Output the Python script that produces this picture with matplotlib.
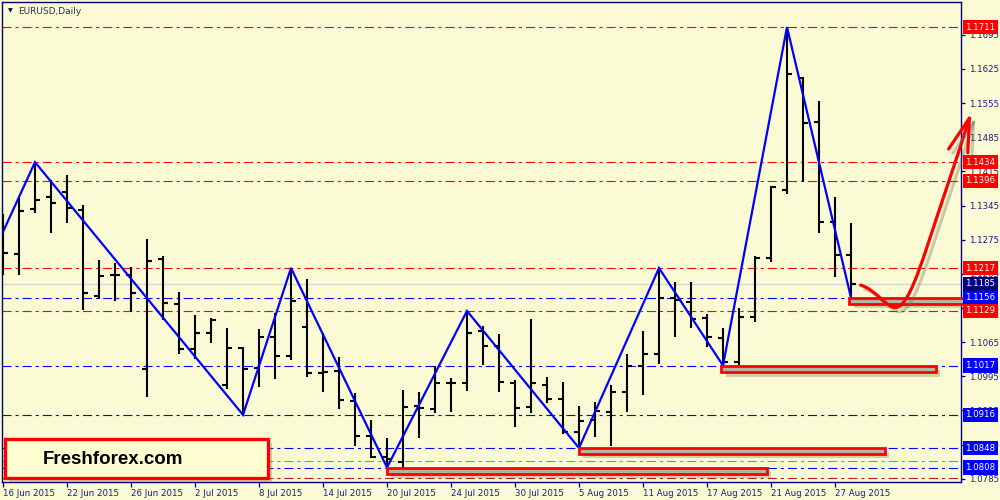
import matplotlib
matplotlib.use('Agg')
import matplotlib.pyplot as plt
from matplotlib.patches import Rectangle, PathPatch
from matplotlib.path import Path
import matplotlib.patheffects as pe
from matplotlib.transforms import blended_transform_factory

plt.rcParams['lines.scale_dashes'] = False
plt.rcParams['font.family'] = ['DejaVu Sans']

# ---------------- data ----------------
opens = [1.1248, 1.1246, 1.1338, 1.1362, 1.1373, 1.1336, 1.1160, 1.1203, 1.1203, 1.1010,
         1.1235, 1.1143, 1.1051, 1.1084, 1.0977, 1.1053, 1.1012, 1.1076, 1.1037, 1.1096,
         1.1002, 1.1006, 1.0944, 1.0873, 1.0830, 1.0819, 1.0934, 1.0928, 1.0981, 1.0981,
         1.1088, 1.1057, 1.0981, 1.0932, 1.0977, 1.0948, 1.0881, 1.0905, 1.0922, 1.0963,
         1.1016, 1.1041, 1.1156, 1.1147, 1.1114, 1.1073, 1.1024, 1.1117, 1.1237, 1.1377,
         1.1607, 1.1516, 1.1311, 1.1244]
highs = [1.1328, 1.1360, 1.1434, 1.1397, 1.1408, 1.1346, 1.1233, 1.1227, 1.1219, 1.1276,
         1.1242, 1.1168, 1.1121, 1.1114, 1.1094, 1.1055, 1.1092, 1.1125, 1.1217, 1.1194,
         1.1084, 1.1035, 1.0961, 1.0905, 1.0868, 1.0967, 1.0963, 1.1016, 1.0991, 1.1129,
         1.1098, 1.1082, 1.0987, 1.1112, 1.0994, 1.0983, 1.0934, 1.0942, 1.0977, 1.1041,
         1.1088, 1.1217, 1.1188, 1.1188, 1.1123, 1.1094, 1.1135, 1.1242, 1.1385, 1.1711,
         1.1609, 1.1559, 1.1362, 1.1309]
lows = [1.1203, 1.1203, 1.1330, 1.1289, 1.1309, 1.1131, 1.1153, 1.1149, 1.1127, 1.0953,
        1.1110, 1.1041, 1.1030, 1.1063, 1.0969, 1.0916, 1.0973, 1.0989, 1.1028, 1.0994,
        1.0963, 1.0928, 1.0852, 1.0827, 1.0808, 1.0808, 1.0868, 1.0920, 1.0922, 1.0965,
        1.1018, 1.0963, 1.0891, 1.0920, 1.0940, 1.0877, 1.0848, 1.0871, 1.0852, 1.0922,
        1.0957, 1.1020, 1.1076, 1.1094, 1.1055, 1.1017, 1.1018, 1.1106, 1.1229, 1.1369,
        1.1393, 1.1289, 1.1199, 1.1156]
closes = [1.1248, 1.1334, 1.1356, 1.1350, 1.1340, 1.1166, 1.1201, 1.1203, 1.1166, 1.1231,
          1.1145, 1.1051, 1.1084, 1.1110, 1.1053, 1.1010, 1.1076, 1.1037, 1.1149, 1.1002,
          1.1004, 1.0946, 1.0873, 1.0830, 1.0825, 1.0932, 1.0930, 1.0981, 1.0981, 1.1084,
          1.1057, 1.0983, 1.0930, 1.0981, 1.0948, 1.0881, 1.0903, 1.0924, 1.0963, 1.1016,
          1.1041, 1.1156, 1.1151, 1.1112, 1.1076, 1.1024, 1.1117, 1.1237, 1.1383, 1.1615,
          1.1514, 1.1311, 1.1244, 1.1185]

zigzag_bars = [0, 2, 15, 18, 24, 29, 36, 41, 45, 49, 53]
zigzag_prices = [1.1291, 1.1434, 1.0916, 1.1217, 1.0808, 1.1129, 1.0848, 1.1217, 1.1017, 1.1711, 1.1156]

level_prices = [1.1711, 1.1434, 1.1396, 1.1217, 1.1156, 1.1129, 1.1017, 1.0916, 1.0848, 1.0822, 1.0808, 1.0787]
level_colors = ['#FF0000', '#FF0000', '#FF0000', '#FF0000', '#0000FF', '#FF0000', '#0000FF',
                '#0000FF', '#0000FF', '#33CC33', '#0000FF', '#C01818']
level_labeled = [True, True, True, True, True, True, True, True, True, False, True, False]

bid_price = 1.1185

ytick_values = [1.1695, 1.1625, 1.1555, 1.1485, 1.1415, 1.1345, 1.1275, 1.1205, 1.1135,
                1.1065, 1.0995, 1.0925, 1.0855, 1.0785]
xtick_bars = [0, 4, 8, 12, 16, 20, 24, 28, 32, 36, 40, 44, 48, 52]
xtick_labels = ['16 Jun 2015', '22 Jun 2015', '26 Jun 2015', '2 Jul 2015', '8 Jul 2015',
                '14 Jul 2015', '20 Jul 2015', '24 Jul 2015', '30 Jul 2015', '5 Aug 2015',
                '11 Aug 2015', '17 Aug 2015', '21 Aug 2015', '27 Aug 2015']

# highlighted zones: (start bar, end bar, top price, bottom price)
zone_start = [36, 24, 44.9, 52.9]
zone_end = [55.1, 47.75, 58.3, 60.3]
zone_top = [1.0848, 1.0808, 1.1017, 1.1156]
zone_bottom = [1.0836, 1.0795, 1.1003, 1.1143]

# hand-drawn forecast arrow (bar index, price) - bezier control points
arrow_bars = [53.6, 54.6, 55.2, 55.8, 56.4, 57.0, 57.8, 58.6, 59.5, 60.4]
arrow_prices = [1.1182, 1.1172, 1.1135, 1.1136, 1.1137, 1.1185, 1.1265, 1.1345, 1.1430, 1.1524]
arrow_head_bars = [59.1, 60.4, 60.3]
arrow_head_prices = [1.1461, 1.1524, 1.1453]

# ---------------- style ----------------
BG = '#FAFAD4'
NAVY = '#000080'
DASHDOT = (0, (6.5, 2.9, 2.2, 2.9))

fig = plt.figure(figsize=(10, 5), dpi=100, facecolor=BG)
ax = fig.add_axes([0.002, 0.036, 0.959, 0.96], facecolor=BG)
ax.set_xlim(-0.0625, 59.875)
ax.set_ylim(1.07783, 1.17623)

for s in ax.spines.values():
    s.set_color(NAVY)
    s.set_linewidth(1.0)

# levels
for p, c in zip(level_prices, level_colors):
    ax.axhline(p, color=c, lw=0.8, linestyle=DASHDOT, zorder=1)
ax.axhline(bid_price, color='#D4D4D4', lw=0.9, zorder=1)

# OHLC bars
xs = list(range(len(opens)))
ax.vlines(xs, lows, highs, color='black', lw=1.5, zorder=3, capstyle='butt')
ax.hlines(opens, [x - 0.34 for x in xs], xs, color='black', lw=1.5, zorder=3)
ax.hlines(closes, xs, [x + 0.34 for x in xs], color='black', lw=1.5, zorder=3)

# zigzag
ax.plot(zigzag_bars, zigzag_prices, color='#0000FF', lw=1.6, zorder=4, solid_joinstyle='miter')

# zones
for x0, x1, top, bot in zip(zone_start, zone_end, zone_top, zone_bottom):
    r = Rectangle((x0, bot), x1 - x0, top - bot, facecolor='#B4B4A2', edgecolor='#FF0000',
                  lw=2.0, zorder=6, clip_on=False,
                  path_effects=[pe.withSimplePatchShadow(offset=(3, -3), shadow_rgbFace='#808060', alpha=0.35)])
    ax.add_patch(r)

# arrow curve
verts = [(b, p) for b, p in zip(arrow_bars, arrow_prices)]
codes = [Path.MOVETO] + [Path.CURVE4] * 9
arrow_path = Path(verts, codes)
line_shadow = [pe.SimpleLineShadow(offset=(3, -3), shadow_color='#707050', alpha=0.35), pe.Normal()]
ax.add_patch(PathPatch(arrow_path, fill=False, edgecolor='#FF0000', lw=2.3, zorder=7,
                       clip_on=False, capstyle='round', path_effects=line_shadow))
ax.plot([arrow_head_bars[0], arrow_head_bars[1]], [arrow_head_prices[0], arrow_head_prices[1]],
        color='#FF0000', lw=2.3, zorder=7, clip_on=False, solid_capstyle='round', path_effects=line_shadow)
ax.plot([arrow_head_bars[1], arrow_head_bars[2]], [arrow_head_prices[1], arrow_head_prices[2]],
        color='#FF0000', lw=2.3, zorder=7, clip_on=False, solid_capstyle='round', path_effects=line_shadow)

# axes ticks
ax.yaxis.tick_right()
ax.set_yticks(ytick_values)
ax.set_yticklabels([f'{v:.4f}' for v in ytick_values])
ax.tick_params(axis='y', colors=NAVY, length=3, width=0.9, pad=2.5, labelsize=6.2, labelcolor='#1A1A80')
ax.set_xticks(xtick_bars)
ax.set_xticklabels(xtick_labels, ha='left')
ax.tick_params(axis='x', colors=NAVY, length=3.5, width=0.9, pad=1.5, labelsize=6.2, labelcolor='#1A1A80')

# right price labels
btf = blended_transform_factory(ax.transAxes, ax.transData)
for p, c, lab in zip(level_prices, level_colors, level_labeled):
    if lab:
        ax.text(1.0045, p, f'{p:.4f}', transform=btf, ha='left', va='center', fontsize=6.2,
                color='white', clip_on=False, zorder=12,
                bbox=dict(boxstyle='square,pad=0.3', fc=c, ec='none'))
ax.text(1.0045, bid_price, f'{bid_price:.4f}', transform=btf, ha='left', va='center', fontsize=6.2,
        color='white', clip_on=False, zorder=12,
        bbox=dict(boxstyle='square,pad=0.3', fc=NAVY, ec='none'))

# title
fig.text(0.008, 1 - 11 / 500, '\u25BC', fontsize=4.5, color=NAVY, va='center')
fig.text(0.018, 1 - 11 / 500, 'EURUSD,Daily', fontsize=6.5, color='#303050', va='center')

# watermark box
box = Rectangle((5 / 1000, 1 - 478 / 500), 263 / 1000, 39 / 500, transform=fig.transFigure,
                facecolor='#FFFFD2', edgecolor='#FF0000', lw=2.4, zorder=20,
                path_effects=[pe.withSimplePatchShadow(offset=(3, -3), shadow_rgbFace='#808060', alpha=0.35)])
fig.patches.append(box)
fig.text(43 / 1000, 1 - 459 / 500, 'Freshforex.com', fontsize=13.5, fontweight='bold',
         family='Liberation Sans', color='black', va='center', ha='left', zorder=21)

fig.savefig('out.png', dpi=100, facecolor=BG)
